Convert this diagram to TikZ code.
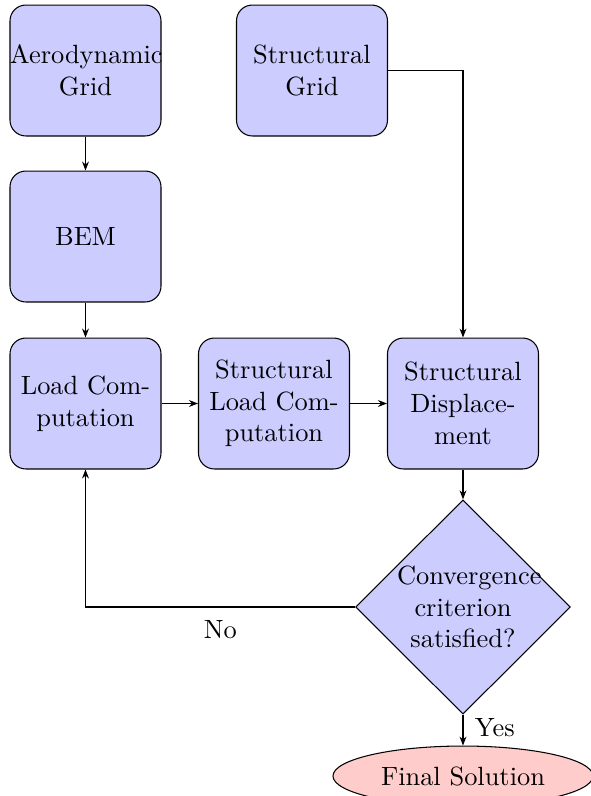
\documentclass[tikz,border=0pt]{standalone}
\usetikzlibrary{shapes.geometric,arrows.meta}
\begin{document}
\begin{tikzpicture}[x=0.3788pt,y=-0.3788pt,
  blockbox/.style={rectangle,draw,fill=blue!20,rounded corners=6pt,text width=57.2pt,align=center,minimum width=57.2pt,minimum height=49.6pt,inner sep=0pt},
  decisionbox/.style={diamond,draw,fill=blue!20,text width=5em,align=center,minimum width=81.4pt,minimum height=80.7pt,inner sep=0pt},
  endbox/.style={ellipse,draw,fill=red!20,minimum width=98.5pt,minimum height=22.7pt,inner sep=0pt},
  conn/.style={draw,-{Stealth[length=3.4pt,width=2.6pt]}}]
\useasboundingbox (0,0) rectangle (590,796);
\node[blockbox] (aero) at (85.5,70.5) {Aerodynamic\\Grid};
\node[blockbox] (sgrid) at (312,70.5) {Structural\\Grid};
\node[blockbox] (bem) at (85.5,236.5) {BEM};
\node[blockbox] (load) at (85.5,403.5) {Load Com-\\putation};
\node[blockbox] (sload) at (274,403.5) {Structural\\Load Com-\\putation};
\node[blockbox] (sdisp) at (463,403.5) {Structural\\Displace-\\ment};
\node[decisionbox] (conv) at (463,607) {Convergence\\criterion\\satisfied?};
\node[endbox] (final) at (463,776) {Final Solution};
\path[conn] (aero) -- (bem);
\path[conn] (bem) -- (load);
\path[conn] (load) -- (sload);
\path[conn] (sload) -- (sdisp);
\path[conn] (sgrid) -| (sdisp);
\path[conn] (sdisp) -- (conv);
\path[conn] (conv) -| node[pos=0.25,below=1.5pt] (nolab) {No} (load);
\path[conn] (conv) -- node[right=1pt,yshift=1pt] (yeslab) {Yes} (final);
\end{tikzpicture}
\end{document}
